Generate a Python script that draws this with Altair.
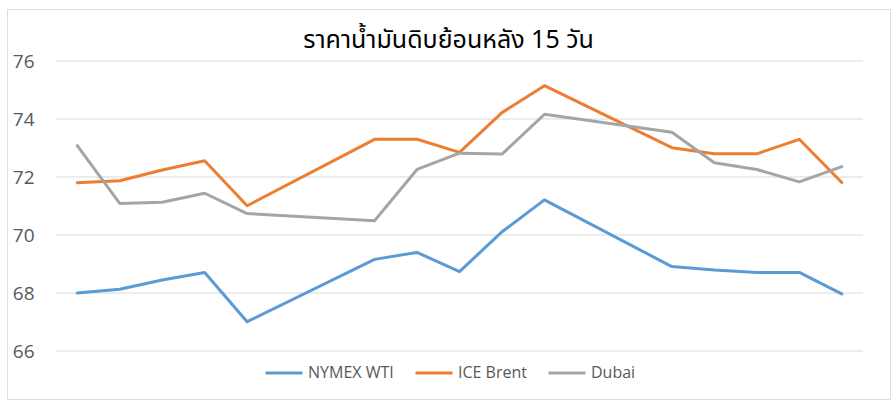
import altair as alt
import pandas as pd

# Trading-day positions (weekend gaps are skipped days on a date axis)
days = [0, 1, 2, 3, 4, 7, 8, 9, 10, 11, 14, 15, 16, 17, 18]
nymex_wti = [68.00, 68.13, 68.45, 68.71, 67.01, 69.16, 69.40, 68.74, 70.11, 71.21, 68.91, 68.79, 68.71, 68.71, 67.97]
ice_brent = [71.80, 71.87, 72.24, 72.56, 71.01, 73.30, 73.30, 72.85, 74.22, 75.15, 73.01, 72.80, 72.80, 73.30, 71.81]
dubai = [73.08, 71.09, 71.13, 71.44, 70.74, 70.49, 72.26, 72.82, 72.79, 74.16, 73.54, 72.49, 72.26, 71.83, 72.36]
series_names = ["NYMEX WTI", "ICE Brent", "Dubai"]
series_colors = ["#5B9BD5", "#ED7D31", "#A5A5A5"]
y_ticks = [66, 68, 70, 72, 74, 76]
x_domain = [-0.5, 18.5]
title_text = "ราคาน้ำมันดิบย้อนหลัง 15 วัน"

rows = []
for name, vals in zip(series_names, [nymex_wti, ice_brent, dubai]):
    for d, v in zip(days, vals):
        rows.append({"day": d, "price": v, "series": name})
df = pd.DataFrame(rows)
grid_df = pd.DataFrame({"tick": y_ticks, "start": x_domain[0], "end": x_domain[1]})

LABEL_FONT = "Open Sans"

x_scale = alt.Scale(domain=x_domain, range=[49, 856], nice=False, zero=False)
y_scale = alt.Scale(domain=[66, 76], range=[342, 52], nice=False, zero=False)
y_axis = alt.Axis(values=y_ticks, title=None, grid=False, domain=False, ticks=False,
                  tickSize=0, labelPadding=0, offset=-27, labelFontSize=19,
                  labelFont=LABEL_FONT, labelColor="#595959")

grid = alt.Chart(grid_df).mark_rule(color="#D9D9D9", strokeWidth=1).encode(
    y=alt.Y("tick:Q", scale=y_scale, axis=y_axis),
    x=alt.X("start:Q", scale=x_scale, axis=None),
    x2="end:Q",
)

lines = alt.Chart(df).mark_line(strokeWidth=3, strokeCap="round", strokeJoin="round").encode(
    x=alt.X("day:Q", scale=x_scale, axis=None),
    y=alt.Y("price:Q", scale=y_scale, axis=y_axis),
    color=alt.Color(
        "series:N",
        scale=alt.Scale(domain=series_names, range=series_colors),
        legend=alt.Legend(
            title=None, orient="none", direction="horizontal",
            legendX=257, legendY=344, padding=0,
            symbolType="stroke", symbolSize=1369, symbolStrokeWidth=3,
            labelFont=LABEL_FONT, labelFontSize=16, labelColor="#595959",
            labelOffset=4, columnPadding=15,
        ),
    ),
)

chart = alt.layer(grid, lines).properties(
    width=883,
    height=390,
    title=alt.TitleParams(
        text=title_text, anchor="middle", offset=-64, baseline="alphabetic",
        fontSize=25, fontWeight="normal", color="#000000",
        font="Noto Sans Thai, Leelawadee UI, Tahoma, sans-serif",
    ),
    padding={"left": 7, "top": 9, "right": 6, "bottom": 11},
    autosize=alt.AutoSizeParams(type="none"),
).configure_view(stroke="#D9D9D9", strokeWidth=1).configure(background="white")

chart.save("out.html", embed_options={"renderer": "svg", "actions": False})
